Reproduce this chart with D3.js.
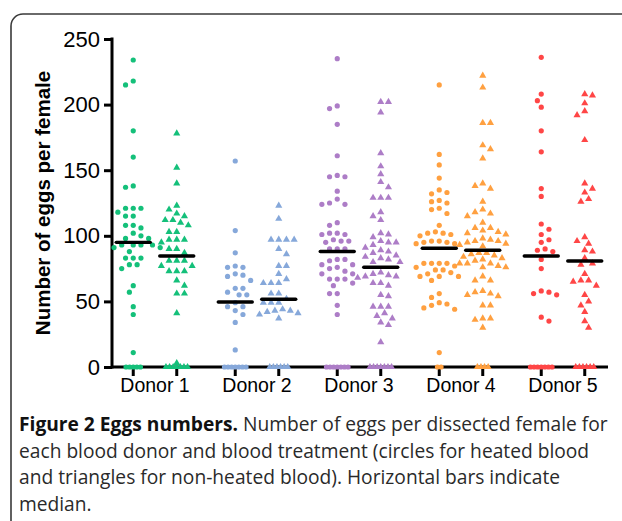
<!DOCTYPE html>
<html><head><meta charset="utf-8">
<script src="https://cdn.jsdelivr.net/npm/d3@7"></script>
<style>html,body{margin:0;padding:0;background:#fff;}svg{display:block;}</style>
</head><body>
<svg id="c" width="622" height="521"></svg>
<script>
const donors = ["Donor 1","Donor 2","Donor 3","Donor 4","Donor 5"];
const treatments = ["heated","nonheated"];
const colors = ["#14c07a","#86a8da","#ad7dc7","#ffa040","#ff4646"];
const yTicks = [0,50,100,150,200,250];

const d1Heated = [234,218,215,180,160,138,137,121,121,121,118,115,115,108,108,106,102,100,98,98,93,93,93,93,91,91,88,83,83,83,78,78,75,62,57,46,40,11,0,0,0,0,0];
const d1NonHeated = [178,152,140,123,120,117,115,112,112,110,108,103,103,97,97,97,95,90,90,87,81,81,81,77,77,73,73,73,66,62,56,56,41,3,0,0,0,0,0,0,0];
const d2Heated = [157,104,87,77,76,76,71,70,69,66,60,60,57,55,55,49,46,46,43,40,34,13,0,0,0,0,0,0,0];
const d2NonHeated = [123,113,97,97,97,97,90,86,77,77,71,67,64,64,64,56,56,52,49,49,49,44,43,43,42,41,40,37,0,0,0,0,0,0];
const d3Heated = [235,199,197,185,161,146,145,145,134,128,125,124,124,110,108,102,102,101,101,97,96,96,95,90,90,90,82,82,81,78,78,76,75,73,71,71,67,67,67,64,62,56,56,47,40,0,0,0,0,0,0,0];
const d3NonHeated = [202,202,194,163,153,147,141,137,129,129,129,118,115,112,102,101,99,96,95,95,93,91,89,88,87,85,84,83,82,80,80,72,71,70,69,69,68,64,64,62,55,54,46,46,46,41,39,37,34,32,19,0,0,0,0,0,0,0];
const d4Heated = [215,162,154,144,135,133,132,127,126,125,121,120,117,108,103,102,102,101,100,96,96,95,95,94,94,79,79,79,79,77,76,74,74,72,71,69,69,69,66,56,53,49,48,47,45,44,11,0,0];
const d4NonHeated = [222,213,186,186,169,166,159,140,138,136,126,120,118,117,115,110,106,106,104,103,102,101,98,97,96,96,95,94,93,92,87,87,86,85,84,83,82,81,79,79,79,77,76,76,69,66,66,58,57,56,55,54,47,47,37,37,36,30,0,0,0,0];
const d5Heated = [236,208,203,198,180,164,136,130,109,105,101,97,95,90,89,88,82,75,58,57,56,55,38,35,0,0,0,0,0,0,0];
const d5NonHeated = [208,207,201,195,192,173,140,136,133,128,126,99,96,94,89,88,83,79,78,71,66,66,65,62,55,50,47,42,35,30,0,0,0,0,0,0];

const heatedMedians = [95,49.5,88,90.5,84.6];
const nonHeatedMedians = [84.6,51.6,76,89,80.8];

const heatedSeries = [d1Heated,d2Heated,d3Heated,d4Heated,d5Heated];
const nonHeatedSeries = [d1NonHeated,d2NonHeated,d3NonHeated,d4NonHeated,d5NonHeated];

const captionBold = "Figure 2 Eggs numbers.";
const captionLines = [" Number of eggs per dissected female for",
  "each blood donor and blood treatment (circles for heated blood",
  "and triangles for non-heated blood). Horizontal bars indicate",
  "median."];

const svg = d3.select("#c");

// figure frame
svg.append("rect").attr("x",11).attr("y",14).attr("width",720).attr("height",600)
  .attr("rx",12).attr("fill","none").attr("stroke","#3a3a3a").attr("stroke-width",1.6);

const x = d3.scaleBand().domain(donors).range([104,614]).padding(0);
const xt = d3.scalePoint().domain(treatments).range([-21.75,21.75]);
const y = d3.scaleLinear().domain([0,250]).range([367,39]);

const axisX0 = 112, axisX1 = 608;

// y axis
const yAxis = d3.axisLeft(y).tickValues(yTicks).tickSize(8).tickPadding(4);
const ga = svg.append("g").attr("transform",`translate(${axisX0},0)`).call(yAxis);
ga.select(".domain").remove();
ga.selectAll(".tick line").attr("stroke","#000").attr("stroke-width",3);
ga.selectAll(".tick text").attr("font-family","Liberation Sans, Arial, sans-serif").attr("font-size",22).attr("fill","#000");
svg.append("line").attr("x1",axisX0).attr("x2",axisX0).attr("y1",y(250)-1.5).attr("y2",y(0)+1.5)
  .attr("stroke","#000").attr("stroke-width",3);

// x axis
svg.append("line").attr("x1",axisX0).attr("x2",axisX1).attr("y1",y(0)).attr("y2",y(0))
  .attr("stroke","#000").attr("stroke-width",3);
donors.forEach(dn=>{
  treatments.forEach(t=>{
    const cx = x(dn)+x.bandwidth()/2+xt(t);
    svg.append("line").attr("x1",cx).attr("x2",cx).attr("y1",y(0)).attr("y2",y(0)+9)
      .attr("stroke","#000").attr("stroke-width",3);
  });
  svg.append("text").attr("x",x(dn)+x.bandwidth()/2).attr("y",392)
    .attr("text-anchor","middle").attr("font-family","Liberation Sans, Arial, sans-serif")
    .attr("font-size",19.5).attr("fill","#000").text(dn);
});

// y title
svg.append("text").attr("transform",`translate(50,${(y(0)+y(250))/2}) rotate(-90)`)
  .attr("text-anchor","middle").attr("font-family","Liberation Sans, Arial, sans-serif")
  .attr("font-weight","bold").attr("font-size",20.5).attr("fill","#000")
  .text("Number of eggs per female");

// beeswarm layout
function swarm(values, cx){
  const D = 6.6, h = 3.85;
  const placed = [];
  const zeros = values.filter(v=>v===0);
  const nz = values.filter(v=>v!==0).slice().sort((a,b)=>b-a);
  nz.forEach((v,i)=>{
    const yy = y(v);
    for(let k=0;k<40;k++){
      const cands = k===0?[0]:(i%2? [k*h,-k*h]:[-k*h,k*h]);
      let done=false;
      for(const off of cands){
        if(placed.every(p=>{const dx=p.dx-off, dy=p.y-yy; return dx*dx+dy*dy>=D*D;})){
          placed.push({dx:off,y:yy,v}); done=true; break;
        }
      }
      if(done) break;
    }
  });
  const n = zeros.length;
  zeros.forEach((v,i)=>placed.push({dx:(i-(n-1)/2)*3.6,y:y(0),v}));
  return placed.map(p=>({x:cx+p.dx,y:p.y}));
}

const triangle = d3.symbol().type(d3.symbolTriangle).size(22);

donors.forEach((dn,i)=>{
  const c = x(dn)+x.bandwidth()/2;
  const hx = c+xt("heated"), nx = c+xt("nonheated");
  const hp = swarm(heatedSeries[i], hx);
  svg.append("g").selectAll("circle").data(hp).join("circle")
    .attr("cx",d=>d.x).attr("cy",d=>d.y).attr("r",2.6).attr("fill",colors[i]);
  const np = swarm(nonHeatedSeries[i], nx);
  svg.append("g").selectAll("path").data(np).join("path")
    .attr("d",triangle).attr("transform",d=>`translate(${d.x},${d.y})`).attr("fill",colors[i]);
  // medians
  svg.append("line").attr("x1",hx-17).attr("x2",hx+17).attr("y1",y(heatedMedians[i])).attr("y2",y(heatedMedians[i]))
    .attr("stroke","#000").attr("stroke-width",3.4).attr("stroke-linecap","round");
  svg.append("line").attr("x1",nx-17).attr("x2",nx+17).attr("y1",y(nonHeatedMedians[i])).attr("y2",y(nonHeatedMedians[i]))
    .attr("stroke","#000").attr("stroke-width",3.4).attr("stroke-linecap","round");
});

// caption
const cap = svg.append("g").attr("font-family","Open Sans, sans-serif").attr("font-size",19.2).attr("fill","#2a2a2a");
const t1 = cap.append("text").attr("x",19).attr("y",431);
t1.append("tspan").attr("font-weight","bold").attr("fill","#111").text(captionBold);
t1.append("tspan").text(captionLines[0]);
captionLines.slice(1).forEach((l,i)=>{
  cap.append("text").attr("x",19).attr("y",431+26.7*(i+1)).text(l);
});
</script>
</body></html>
